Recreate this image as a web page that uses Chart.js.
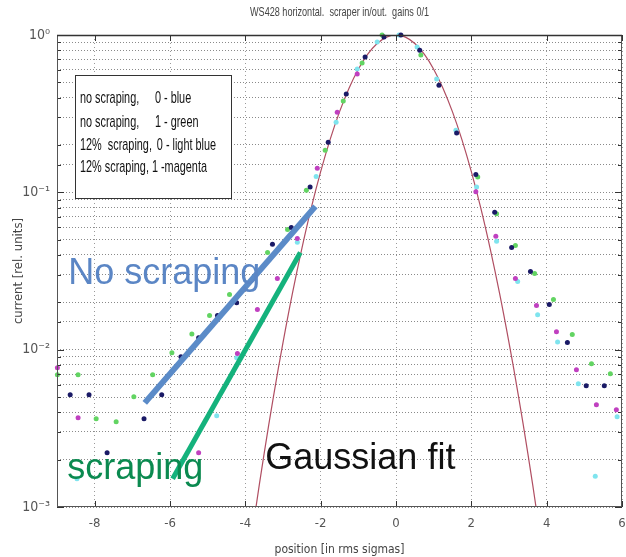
<!DOCTYPE html>
<html><head><meta charset="utf-8">
<script src="https://cdn.jsdelivr.net/npm/chart.js@4.4.1/dist/chart.umd.min.js"></script>
<style>html,body{margin:0;padding:0;background:#fff}#wrap{width:626px;height:557px}</style>
</head><body><div id="wrap"><canvas id="c" width="626" height="557"></canvas></div>
<script>
// ---- data ----
const blueX = [-8.65,-8.15,-7.67,-6.69,-6.22,-5.71,-5.24,-4.74,-4.23,-3.28,-2.78,-2.28,-1.80,-1.32,-0.82,-0.32,0.13,0.63,1.14,1.61,2.12,2.62,3.07,3.57,4.07,4.55,5.05,5.53];
const blueY = [0.00517,0.00517,0.00221,0.00364,0.00517,0.00902,0.0119,0.0165,0.0199,0.0467,0.0598,0.108,0.208,0.421,0.724,0.971,1.0,0.80,0.480,0.238,0.130,0.0746,0.0446,0.0314,0.0194,0.0111,0.0059,0.0059];
const greenX = [-8.99,-8.44,-7.96,-7.43,-6.96,-6.46,-5.95,-5.42,-4.95,-4.42,-3.41,-2.88,-2.38,-1.88,-1.40,-0.90,-0.37,0.66,2.17,2.67,3.17,3.68,4.18,4.68,5.19,5.69];
const greenY = [0.00693,0.00693,0.00364,0.00348,0.00502,0.00693,0.00957,0.0126,0.0165,0.0224,0.0415,0.0581,0.103,0.185,0.380,0.663,1.0,0.746,0.125,0.073,0.0460,0.0305,0.0208,0.0125,0.00815,0.00703];
const cyanX = [-8.47,-4.76,-4.23,-2.62,-2.12,-1.59,-1.03,-0.50,0.08,0.56,1.08,1.59,2.14,2.67,3.23,3.76,4.29,4.84,5.29,5.87];
const cyanY = [0.00151,0.00380,0.00889,0.0481,0.126,0.279,0.607,0.902,1.0,0.839,0.525,0.248,0.108,0.0488,0.0271,0.0167,0.0112,0.00607,0.00157,0.00374];
const magentaX = [-8.99,-8.44,-5.24,-4.21,-3.68,-3.15,-2.62,-2.09,-1.56,-1.03,2.12,2.65,3.17,3.73,4.26,4.79,5.32,5.85];
const magentaY = [0.00768,0.00369,0.00221,0.00944,0.0180,0.0283,0.0509,0.142,0.323,0.565,0.101,0.0525,0.0283,0.0191,0.0130,0.00746,0.00447,0.00415];
const fitX = [-4,-3.75,-3.5,-3.25,-3,-2.75,-2.5,-2.25,-2,-1.75,-1.5,-1.25,-1,-0.75,-0.5,-0.25,0,0.25,0.5,0.75,1,1.25,1.5,1.75,2,2.25,2.5,2.75,3,3.25,3.5,3.75,4];
const fitY = [0.000335,0.000884,0.00219,0.00509,0.0111,0.0228,0.0439,0.0796,0.1353,0.2163,0.3247,0.4578,0.6065,0.7548,0.8825,0.9692,1,0.9692,0.8825,0.7548,0.6065,0.4578,0.3247,0.2163,0.1353,0.0796,0.0439,0.0228,0.0111,0.00509,0.00219,0.000884,0.000335];
const noScrapeLineX = [-6.67,-2.14];
const noScrapeLineY = [0.00459,0.0814];
const scrapeLineX = [-5.93,-2.54];
const scrapeLineY = [0.00151,0.0415];
const xTicks = [-8,-6,-4,-2,0,2,4,6];
const yTickLabels = ['10\u2070','10\u207B\u00B9','10\u207B\u00B2','10\u207B\u00B3'];
const titleText = 'WS428 horizontal.  scraper in/out.  gains 0/1';
const legendLeft = ['no scraping,','no scraping,','12%  scraping,','12% scraping,'];
const legendRight = ['0 - blue','1 - green','0 - light blue','1 -magenta'];
const noteTexts = ['No scraping','scraping','Gaussian fit'];

// ---- styles / placement ----
const FONT_N = "'Liberation Sans Narrow','DejaVu Sans Condensed','Liberation Sans',sans-serif";
const FONT = "'Liberation Sans',Arial,sans-serif";
const notes = [
  {x:-8.70, y:0.0263, color:'#5b86c5'},
  {x:-8.73, y:0.00151, color:'#0b8a50'},
  {x:-3.47, y:0.00175, color:'#111111'}
];
const legendBox = {x1:-8.52, y1:0.556, x2:-4.39, y2:0.0916};
const legendRows = [0.369,0.259,0.185,0.134];
const legendColX = [-8.39,-6.40];
const legendShift = [0,0,0.05,-0.08];

function pts(xs, ys){ return xs.map((x,i)=>({x:x, y:ys[i]})); }
function sq(ctx, text, x, y, sx, align){
  ctx.save(); ctx.translate(x,y); ctx.scale(sx,1); ctx.textAlign=align; ctx.fillText(text,0,0); ctx.restore();
}
function isDecade(v){ const e=Math.log10(v); return Math.abs(e-Math.round(e))<1e-6; }

const overlay = {
  id:'overlay',
  afterDraw(chart){
    const {ctx, chartArea:a, scales:{x, y}} = chart;
    ctx.save();
    // inward ticks
    ctx.strokeStyle='#333'; ctx.lineWidth=1;
    ctx.beginPath();
    x.ticks.forEach(t=>{ const px=Math.round(x.getPixelForValue(t.value))+0.5;
      ctx.moveTo(px,a.bottom); ctx.lineTo(px,a.bottom-6); ctx.moveTo(px,a.top); ctx.lineTo(px,a.top+6); });
    y.ticks.forEach(t=>{ const py=Math.round(y.getPixelForValue(t.value))+0.5; const L=isDecade(t.value)?7:4;
      ctx.moveTo(a.left,py); ctx.lineTo(a.left+L,py); ctx.moveTo(a.right,py); ctx.lineTo(a.right-L,py); });
    ctx.stroke();
    // frame
    ctx.strokeStyle='#555';
    ctx.strokeRect(a.left+0.5,a.top+0.5,a.right-a.left-1,a.bottom-a.top-1);
    ctx.strokeStyle='#333'; ctx.lineWidth=1.5;
    ctx.beginPath(); ctx.moveTo(a.left,a.top+0.5); ctx.lineTo(a.right,a.top+0.5); ctx.stroke();
    // title
    ctx.fillStyle='#444'; ctx.font='13px '+FONT; ctx.textBaseline='middle';
    sq(ctx, titleText, (a.left+a.right)/2, 12, 0.7, 'center');
    // legend box
    const bx1=x.getPixelForValue(legendBox.x1), bx2=x.getPixelForValue(legendBox.x2);
    const by1=y.getPixelForValue(legendBox.y1), by2=y.getPixelForValue(legendBox.y2);
    ctx.fillStyle='#fff'; ctx.fillRect(bx1,by1,bx2-bx1,by2-by1);
    ctx.strokeStyle='#333'; ctx.lineWidth=1; ctx.strokeRect(Math.round(bx1)+0.5,Math.round(by1)+0.5,Math.round(bx2-bx1),Math.round(by2-by1));
    ctx.fillStyle='#111'; ctx.font='17px '+FONT; ctx.textBaseline='alphabetic';
    legendRows.forEach((ry,i)=>{
      const py=y.getPixelForValue(ry);
      sq(ctx, legendLeft[i], x.getPixelForValue(legendColX[0]), py, 0.64, 'left');
      sq(ctx, legendRight[i], x.getPixelForValue(legendColX[1]+legendShift[i]), py, 0.64, 'left');
    });
    // big annotation texts
    ctx.font='36px '+FONT;
    notes.forEach((n,i)=>{ ctx.fillStyle=n.color; ctx.textAlign='left';
      ctx.fillText(noteTexts[i], x.getPixelForValue(n.x), y.getPixelForValue(n.y)); });
    ctx.restore();
  }
};

new Chart(document.getElementById('c'), {
  type:'scatter',
  data:{datasets:[
    {label:'No scraping', data:pts(noScrapeLineX,noScrapeLineY), showLine:true, borderColor:'#5b8bc8', borderWidth:6, pointRadius:0, order:0, clip:0},
    {label:'scraping', data:pts(scrapeLineX,scrapeLineY), showLine:true, borderColor:'#14b27c', borderWidth:5, pointRadius:0, order:1, clip:0},
    {label:'no scraping, 0 - blue', data:pts(blueX,blueY), backgroundColor:'#1a1a66', borderWidth:0, pointRadius:2.5, order:2, clip:6},
    {label:'12% scraping, 1 - magenta', data:pts(magentaX,magentaY), backgroundColor:'#c040c0', borderWidth:0, pointRadius:2.5, order:3, clip:6},
    {label:'12% scraping, 0 - light blue', data:pts(cyanX,cyanY), backgroundColor:'#7fe4ee', borderWidth:0, pointRadius:2.5, order:4, clip:6},
    {label:'no scraping, 1 - green', data:pts(greenX,greenY), backgroundColor:'#62d462', borderWidth:0, pointRadius:2.5, order:5, clip:6},
    {label:'Gaussian fit', data:pts(fitX,fitY), showLine:true, borderColor:'#b04e62', borderWidth:1.2, pointRadius:0, tension:0.4, order:10, clip:0}
  ]},
  options:{
    responsive:false, animation:false, devicePixelRatio:1,
    layout:{padding:{top:35,right:4,left:0,bottom:0}},
    plugins:{legend:{display:false}, tooltip:{enabled:false}, title:{display:false}},
    scales:{
      x:{type:'linear', min:-9, max:6,
        afterBuildTicks:s=>{ s.ticks = xTicks.map(v=>({value:v})); },
        afterFit:s=>{ s.height=50; s.paddingLeft=0; s.paddingRight=0; },
        grid:{color:'#9a9a9a', drawTicks:false}, border:{display:false, dash:[1,3]},
        ticks:{color:'#555', font:{family:FONT_N,size:13}, padding:9, maxRotation:0, autoSkip:false},
        title:{display:true, text:'position [in rms sigmas]', color:'#444', font:{family:FONT_N,size:12}, padding:{top:0,bottom:0}}
      },
      y:{type:'logarithmic', min:0.001, max:1,
        afterFit:s=>{ s.width=57; s.paddingTop=0; s.paddingBottom=0; },
        grid:{color:'#8a8a8a', drawTicks:false}, border:{display:false, dash:[1,2]},
        ticks:{autoSkip:false, color:'#555', font:{family:FONT_N,size:14}, padding:7,
          callback:v=>{ if(!isDecade(v)) return ''; return yTickLabels[-Math.round(Math.log10(v))]; }},
        title:{display:true, text:'current [rel. units]', color:'#444', font:{family:FONT_N,size:13}, padding:{top:11,bottom:0}}
      }
    }
  },
  plugins:[overlay]
});
</script>
</body></html>
